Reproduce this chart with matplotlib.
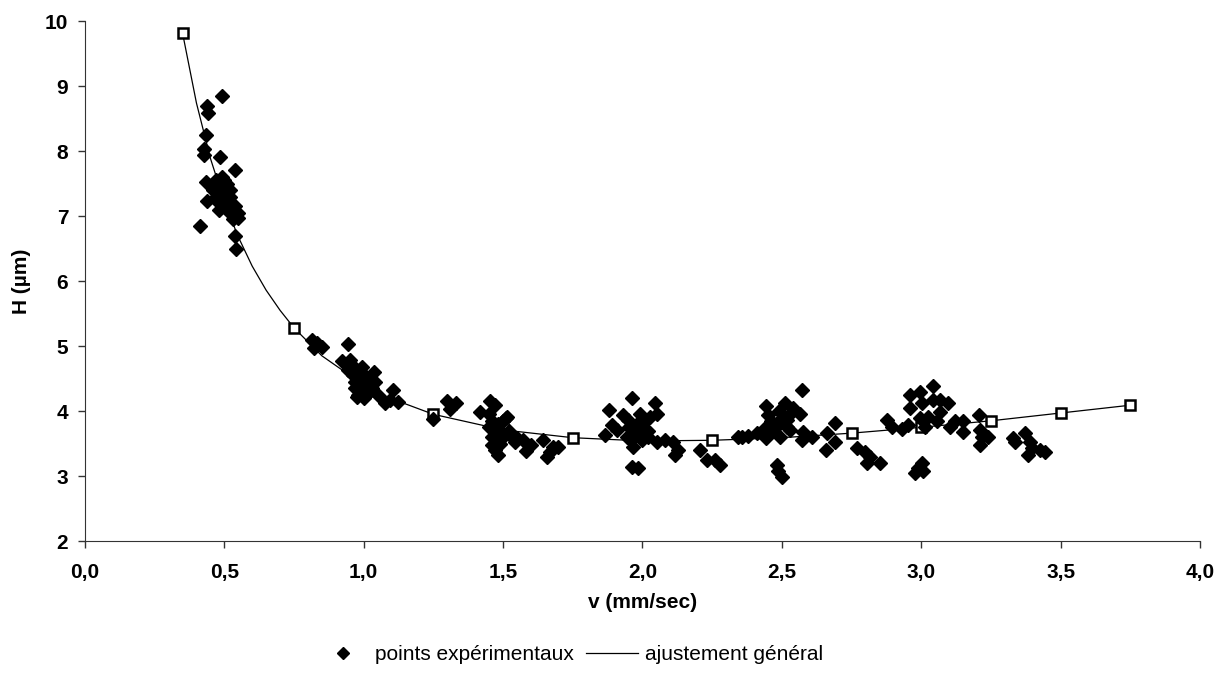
import matplotlib.pyplot as plt
from matplotlib.ticker import FuncFormatter

# points expérimentaux (v en mm/sec, H en µm)
v_exp = [0.493, 0.439, 0.442, 0.436, 0.428, 0.427, 0.484, 0.538, 0.434, 0.437, 0.413, 0.538, 0.541,
         0.47, 0.48, 0.49, 0.50, 0.47, 0.48, 0.49, 0.50, 0.51, 0.52, 0.50, 0.51, 0.52, 0.53, 0.54, 0.55,
         0.53, 0.55, 0.49, 0.50, 0.52, 0.54, 0.46, 0.48,
         0.813, 0.831, 0.849, 0.82, 0.942, 0.923, 0.951, 0.945, 0.993, 1.037, 1.04, 0.975, 1.106, 1.094,
         1.123, 1.076, 1.015, 0.96, 0.97, 0.98, 0.99, 1.00, 1.00, 1.01, 1.02, 0.97, 0.98, 1.00, 1.03,
         0.99, 1.02, 0.96, 1.05,
         1.30, 1.33, 1.31, 1.248,
         1.453, 1.471, 1.417, 1.513, 1.459, 1.483, 1.543, 1.582, 1.644, 1.656, 1.68, 1.697, 1.668,
         1.45, 1.46, 1.47, 1.48, 1.49, 1.50, 1.48, 1.46, 1.50, 1.52, 1.53, 1.55, 1.57, 1.45, 1.47, 1.49,
         1.51, 1.60,
         1.961, 2.045, 1.881, 1.866, 1.889, 1.93, 1.948, 1.991, 2.027, 2.051, 1.907, 1.943, 1.967, 2.003,
         2.021, 2.051, 2.081, 2.111, 2.128, 2.117, 1.961, 1.985, 2.206, 2.23, 2.278, 2.26,
         1.98, 1.99, 2.00, 1.97, 2.01, 1.95, 2.02, 1.96,
         2.571, 2.445, 2.511, 2.541, 2.565, 2.451, 2.445, 2.493, 2.517, 2.529, 2.493, 2.445, 2.356, 2.38,
         2.41, 2.577, 2.607, 2.571, 2.661, 2.69, 2.69, 2.658, 2.768, 2.481, 2.487, 2.499, 2.342,
         2.50, 2.52, 2.47, 2.53, 2.49, 2.46,
         2.798, 2.816, 2.804, 2.852, 2.876, 2.894, 2.93, 2.954, 2.96, 2.995, 3.041, 2.96, 3.002, 3.043,
         3.067, 3.097, 2.995, 3.025, 3.067, 3.013, 3.055, 3.103, 3.121, 3.151, 3.151, 3.208, 3.211,
         3.217, 3.24, 3.211, 3.002, 2.99, 3.007, 2.978, 3.33, 3.336, 3.372, 3.39, 3.396, 3.426, 3.384,
         3.444]
H_exp = [8.85, 8.69, 8.59, 8.25, 8.03, 7.94, 7.91, 7.71, 7.53, 7.24, 6.85, 6.69, 6.49,
         7.55, 7.45, 7.50, 7.40, 7.30, 7.20, 7.35, 7.25, 7.50, 7.40, 7.15, 7.10, 7.20, 7.10, 7.00, 7.05,
         6.95, 6.97, 7.60, 7.55, 7.30, 7.15, 7.40, 7.10,
         5.10, 5.04, 4.98, 4.97, 5.03, 4.77, 4.78, 4.63, 4.68, 4.60, 4.45, 4.22, 4.33, 4.17,
         4.14, 4.12, 4.28, 4.55, 4.45, 4.50, 4.40, 4.35, 4.55, 4.45, 4.30, 4.35, 4.25, 4.20, 4.35,
         4.60, 4.50, 4.70, 4.25,
         4.15, 4.12, 4.03, 3.88,
         4.16, 4.09, 3.99, 3.91, 3.48, 3.32, 3.53, 3.39, 3.55, 3.30, 3.45, 3.45, 3.37,
         3.95, 3.85, 3.75, 3.80, 3.70, 3.85, 3.65, 3.60, 3.60, 3.70, 3.62, 3.58, 3.55, 3.75, 3.40, 3.50,
         3.90, 3.48,
         4.20, 4.13, 4.02, 3.63, 3.78, 3.94, 3.86, 3.96, 3.91, 3.96, 3.71, 3.60, 3.45, 3.71,
         3.60, 3.53, 3.55, 3.53, 3.40, 3.32, 3.14, 3.12, 3.40, 3.25, 3.17, 3.25,
         3.80, 3.65, 3.55, 3.70, 3.85, 3.75, 3.70, 3.55,
         4.32, 4.08, 4.13, 4.04, 3.96, 3.94, 3.76, 3.81, 3.86, 3.71, 3.60, 3.58, 3.60, 3.62,
         3.66, 3.68, 3.60, 3.55, 3.66, 3.82, 3.53, 3.40, 3.43, 3.17, 3.07, 2.99, 3.60,
         3.90, 3.75, 3.70, 3.95, 4.00, 3.85,
         3.37, 3.30, 3.20, 3.20, 3.86, 3.75, 3.73, 3.78, 4.25, 4.30, 4.38, 4.04, 4.12, 4.17,
         4.17, 4.13, 3.89, 3.91, 3.99, 3.76, 3.84, 3.76, 3.84, 3.84, 3.68, 3.94, 3.71,
         3.60, 3.60, 3.48, 3.20, 3.12, 3.07, 3.04, 3.58, 3.53, 3.66, 3.53, 3.43, 3.40, 3.32,
         3.37]

# courbe d'ajustement
v_fit = [0.35, 0.40, 0.45, 0.50, 0.55, 0.60, 0.65, 0.70, 0.75, 0.85, 1.00, 1.10, 1.25, 1.50,
         1.75, 2.00, 2.25, 2.50, 2.75, 3.00, 3.25, 3.50, 3.75]
H_fit = [9.82, 8.74, 7.89, 7.22, 6.68, 6.23, 5.86, 5.55, 5.28, 4.85, 4.40, 4.19, 3.95, 3.71,
         3.59, 3.54, 3.55, 3.59, 3.66, 3.75, 3.85, 3.97, 4.09]

# points marqués (carrés) sur la courbe
v_sq = [0.35, 0.75, 1.25, 1.75, 2.25, 2.75, 3.00, 3.25, 3.50, 3.75]
H_sq = [9.82, 5.28, 3.95, 3.59, 3.55, 3.66, 3.75, 3.85, 3.97, 4.09]

plt.rcParams['font.family'] = ['Liberation Sans', 'DejaVu Sans']

fig = plt.figure(figsize=(12.17, 6.82), dpi=100)
ax = fig.add_axes([0.0698, 0.2067, 0.9162, 0.7623])

ax.plot(v_fit, H_fit, color='black', lw=0.9, label='ajustement général', zorder=2)
ax.plot(v_sq, H_sq, ls='none', marker='s', ms=6.5, mfc='white', mec='black', mew=1.8, zorder=3)
ax.plot(v_exp, H_exp, ls='none', marker='D', ms=7.5, color='black',
        label='points expérimentaux', zorder=4)

ax.set_xlim(0, 4)
ax.set_ylim(2, 10)
ax.set_xticks([0, 0.5, 1, 1.5, 2, 2.5, 3, 3.5, 4])
ax.set_yticks(range(2, 11))
ax.xaxis.set_major_formatter(FuncFormatter(lambda x, p: f'{x:.1f}'.replace('.', ',')))
for s in ['top', 'right']:
    ax.spines[s].set_visible(False)
for s in ['left', 'bottom']:
    ax.spines[s].set_color('#333333')
ax.tick_params(direction='out', length=5, width=1, color='#333333', labelsize=15)
ax.tick_params(axis='y', pad=7)
ax.tick_params(axis='x', pad=11)
for lab in ax.get_xticklabels() + ax.get_yticklabels():
    lab.set_fontweight('bold')

ax.set_xlabel('v (mm/sec)', fontsize=15, fontweight='bold', labelpad=8)
ax.set_ylabel('H (µm)', fontsize=15, fontweight='bold', labelpad=10)

h, l = ax.get_legend_handles_labels()
fig.legend(h[::-1], l[::-1], loc='center', bbox_to_anchor=(0.468, 0.04), ncol=2, frameon=False,
           fontsize=15, handlelength=2.5, handletextpad=0.3, columnspacing=0.6, markerscale=0.75)

fig.savefig('out.png', dpi=100)
